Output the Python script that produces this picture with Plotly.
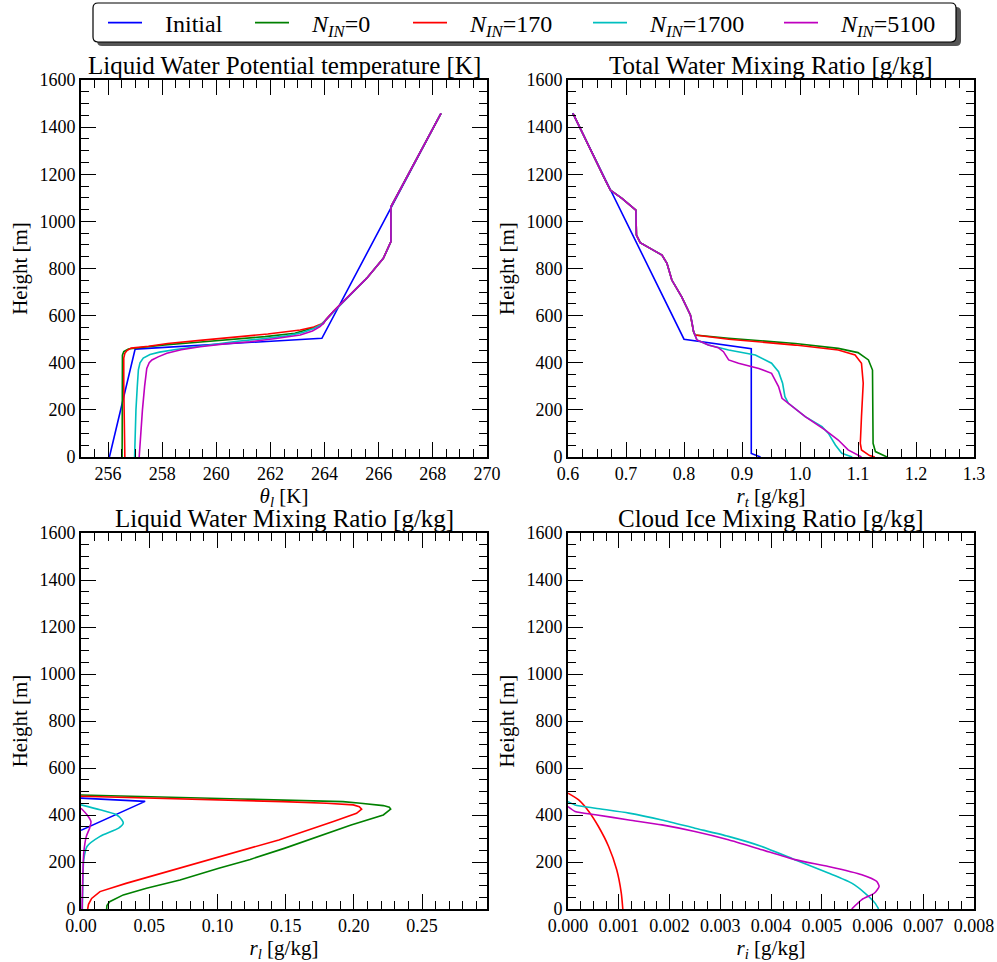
import plotly.graph_objects as go
from plotly.subplots import make_subplots

# ---------------- data ----------------
names = ["Initial", "<i>N</i><sub><i>IN</i></sub>=0", "<i>N</i><sub><i>IN</i></sub>=170",
         "<i>N</i><sub><i>IN</i></sub>=1700", "<i>N</i><sub><i>IN</i></sub>=5100"]
colors = ["#0000FF", "#008000", "#FF0000", "#00BFBF", "#BF00BF"]

# Panel 1: liquid water potential temperature [K]
th_init_h = [0, 458, 504, 1458]
th_init_v = [256.05, 257.0, 263.9, 268.3]
th_top_h = [580, 617, 687, 758, 843, 880, 914, 1062, 1458]
th_top_v = [264.03, 264.32, 264.94, 265.55, 266.17, 266.32, 266.45, 266.45, 268.3]
th_n0_h = [0, 200, 400, 432, 447, 458, 466, 476, 486, 498, 511, 525, 541, 554, 566]
th_n0_v = [256.52, 256.52, 256.52, 256.53, 256.58, 256.75, 257.3, 258.1, 259.2, 260.5, 261.8, 262.9, 263.4, 263.75, 263.95]
th_n170_h = [0, 100, 300, 420, 440, 452, 462, 470, 482, 495, 508, 522, 539, 552, 566]
th_n170_v = [256.62, 256.6, 256.58, 256.58, 256.62, 256.7, 256.85, 257.5, 258.2, 259.4, 260.6, 261.9, 263.1, 263.6, 263.9]
th_n1700_h = [0, 100, 200, 300, 370, 400, 420, 435, 445, 456, 467, 478, 490, 502, 514, 528, 545, 562]
th_n1700_v = [256.98, 257.0, 257.03, 257.08, 257.12, 257.18, 257.3, 257.55, 257.9, 258.5, 259.2, 259.9, 260.7, 261.7, 262.6, 263.2, 263.6, 263.88]
th_n5100_h = [0, 100, 200, 300, 376, 400, 412, 425, 440, 455, 468, 480, 489, 503, 518, 535, 553, 570]
th_n5100_v = [257.15, 257.2, 257.27, 257.35, 257.43, 257.52, 257.62, 257.85, 258.17, 258.7, 259.4, 260.3, 261.25, 262.2, 263.1, 263.55, 263.83, 263.98]

# Panel 2: total water mixing ratio [g/kg]
rt_init_h = [0, 15, 460, 500, 1460]
rt_init_v = [0.932, 0.916, 0.916, 0.800, 0.608]
rt_top_h = [532, 574, 603, 680, 751, 822, 857, 881, 910, 942, 1048, 1098, 1133, 1175, 1458]
rt_top_v = [0.8165, 0.8136, 0.811, 0.796, 0.779, 0.7706, 0.762, 0.7447, 0.7245, 0.718, 0.717, 0.693, 0.673, 0.6643, 0.6086]
rt_n0_h = [0, 23, 58, 150, 300, 369, 412, 443, 461, 482, 504, 518]
rt_n0_v = [1.15, 1.13, 1.126, 1.126, 1.126, 1.125, 1.118, 1.1, 1.066, 0.992, 0.877, 0.819]
rt_n170_h = [0, 6, 30, 58, 171, 313, 398, 433, 454, 475, 500, 518]
rt_n170_v = [1.129, 1.12, 1.106, 1.104, 1.106, 1.109, 1.106, 1.095, 1.066, 0.992, 0.877, 0.819]
rt_n1700_h = [0, 16, 51, 100, 129, 171, 228, 256, 313, 362, 398, 433, 454, 475, 497, 518]
rt_n1700_v = [1.09, 1.072, 1.061, 1.049, 1.038, 1.009, 0.98, 0.974, 0.97, 0.963, 0.951, 0.923, 0.877, 0.842, 0.8222, 0.819]
rt_n5100_h = [0, 30, 72, 115, 171, 221, 249, 299, 355, 376, 398, 412, 447, 464, 475, 497, 518]
rt_n5100_v = [1.106, 1.083, 1.066, 1.043, 1.009, 0.983, 0.969, 0.963, 0.951, 0.929, 0.894, 0.877, 0.868, 0.859, 0.842, 0.8222, 0.819]

# Panel 3: liquid water mixing ratio [g/kg]
rl_init_h = [335, 458, 472]
rl_init_v = [0, 0.047, 0]
rl_n0_h = [0, 15, 31, 60, 88, 123, 173, 211, 258, 357, 400, 425, 433, 440, 450, 457, 468, 478, 485]
rl_n0_v = [0.0188, 0.019, 0.021, 0.031, 0.048, 0.0726, 0.101, 0.124, 0.149, 0.198, 0.2216, 0.227, 0.226, 0.2216, 0.205, 0.192, 0.117, 0.0506, 0.0]
rl_n170_h = [0, 20, 45, 74, 109, 166, 216, 294, 372, 407, 425, 435, 443, 450, 457, 464, 471, 476, 480]
rl_n170_v = [0.0049, 0.0055, 0.0078, 0.0139, 0.033, 0.068, 0.098, 0.145, 0.185, 0.202, 0.2057, 0.204, 0.1996, 0.18, 0.148, 0.099, 0.0506, 0.015, 0.0]
rl_n1700_h = [0, 150, 210, 266, 309, 344, 365, 379, 401, 422, 443]
rl_n1700_v = [0.001, 0.0015, 0.002, 0.0044, 0.014, 0.0276, 0.031, 0.03, 0.026, 0.014, 0.0]
rl_n5100_h = [0, 110, 238, 309, 344, 372, 401, 429]
rl_n5100_v = [0.0008, 0.0012, 0.002, 0.0039, 0.0063, 0.0073, 0.0044, 0.0]

# Panel 4: cloud ice mixing ratio [g/kg] (Initial and N_IN=0 are zero: they lie on the axis)
ri_n170_h = [0, 68, 167, 266, 351, 415, 464, 493]
ri_n170_v = [0.00108, 0.00105, 0.00096, 0.0008, 0.0006, 0.00041, 0.00021, 0.0]
ri_n1700_h = [0, 25, 68, 110, 153, 210, 266, 309, 344, 379, 408, 429, 443, 457]
ri_n1700_v = [0.00612, 0.00605, 0.00585, 0.00559, 0.00513, 0.00447, 0.00382, 0.00316, 0.0025, 0.00185, 0.0012, 0.00054, 0.00014, 0.0]
ri_n5100_h = [0, 40, 68, 96, 118, 146, 181, 210, 252, 295, 330, 358, 379, 401, 415, 436]
ri_n5100_v = [0.00559, 0.00579, 0.00604, 0.00613, 0.00608, 0.00579, 0.00513, 0.00447, 0.00382, 0.00316, 0.0025, 0.00185, 0.0012, 0.00054, 0.00014, 0.0]

titles = ["Liquid Water Potential temperature [K]", "Total Water Mixing Ratio [g/kg]",
          "Liquid Water Mixing Ratio [g/kg]", "Cloud Ice Mixing Ratio [g/kg]"]
xtitles = ["<i>θ</i><sub><i>l</i></sub> [K]", "<i>r</i><sub><i>t</i></sub> [g/kg]",
           "<i>r</i><sub><i>l</i></sub> [g/kg]", "<i>r</i><sub><i>i</i></sub> [g/kg]"]

panels = [
    [(th_init_v, th_init_h),
     (th_n0_v + th_top_v, th_n0_h + th_top_h),
     (th_n170_v + th_top_v, th_n170_h + th_top_h),
     (th_n1700_v + th_top_v, th_n1700_h + th_top_h),
     (th_n5100_v + th_top_v, th_n5100_h + th_top_h)],
    [(rt_init_v, rt_init_h),
     (rt_n0_v + rt_top_v, rt_n0_h + rt_top_h),
     (rt_n170_v + rt_top_v, rt_n170_h + rt_top_h),
     (rt_n1700_v + rt_top_v, rt_n1700_h + rt_top_h),
     (rt_n5100_v + rt_top_v, rt_n5100_h + rt_top_h)],
    [(rl_init_v, rl_init_h), (rl_n0_v, rl_n0_h), (rl_n170_v, rl_n170_h),
     (rl_n1700_v, rl_n1700_h), (rl_n5100_v, rl_n5100_h)],
    [None, None, (ri_n170_v, ri_n170_h),
     (ri_n1700_v, ri_n1700_h), (ri_n5100_v, ri_n5100_h)],
]

# ---------------- figure ----------------
W, H = 997, 962
FONT = "Liberation Serif"
TICK_FS = 18
TITLE_FS = 25
LAB_FS = 21
LEG_FS = 24

legend_ids = ["legend", "legend2", "legend3", "legend4", "legend5"]
legend_line_px = [108, 255, 413, 593, 784]   # left end of each legend line sample (px)

fig = make_subplots(rows=2, cols=2)
for p, series in enumerate(panels):
    r, c = p // 2 + 1, p % 2 + 1
    for k, s in enumerate(series):
        if s is None:
            continue
        xv, yv = s
        smooth = (p == 3) or (p == 2 and k >= 3)
        fig.add_trace(go.Scatter(x=xv, y=yv, mode="lines",
                                 name="&nbsp;&nbsp;&nbsp;" + names[k],
                                 line=dict(color=colors[k], width=1.6,
                                           shape="spline" if smooth else "linear",
                                           smoothing=0.6 if smooth else None),
                                 legend=legend_ids[k],
                                 legendgroup=str(k), showlegend=(p == 0)),
                      row=r, col=c)

def px_x(v):
    return v / W

def px_y(v):
    return 1 - v / H

xdom = [[px_x(81), px_x(487)], [px_x(568), px_x(974)]]
ydom = [[px_y(457), px_y(80)], [px_y(909), px_y(533)]]

xranges = [[255, 270], [0.6, 1.3], [0, 0.2976], [0, 0.008]]
xdt = [2, 0.1, 0.05, 0.001]
xminor = [0.5, 0.025, 0.01, 0.00025]
xfmt = ["d", ".1f", ".2f", ".3f"]
xtick0 = [256, 0.6, 0, 0]

axis_common = dict(showline=True, linecolor="black", linewidth=2, mirror="allticks",
                   ticks="inside", ticklen=15, tickwidth=1.3, tickcolor="black",
                   showgrid=False, zeroline=False, automargin=False,
                   tickfont=dict(family=FONT, size=TICK_FS, color="black"))

for p in range(4):
    row, col = p // 2, p % 2
    sx = "" if p == 0 else str(p + 1)
    fig.layout["xaxis" + sx].update(
        domain=xdom[col], range=xranges[p], dtick=xdt[p], tick0=xtick0[p],
        tickformat=xfmt[p], ticklabelstandoff=-1,
        minor=dict(ticks="inside", ticklen=8, tickwidth=1.1, tickcolor="black",
                   dtick=xminor[p], tick0=xtick0[p], showgrid=False),
        title=dict(text=xtitles[p], font=dict(family=FONT, size=LAB_FS, color="black"), standoff=0),
        **axis_common)
    fig.layout["yaxis" + sx].update(
        domain=ydom[row], range=[0, 1600], dtick=200, tick0=0,
        minor=dict(ticks="inside", ticklen=8, tickwidth=1.1, tickcolor="black",
                   dtick=50, showgrid=False),
        title=dict(text="Height [m]", font=dict(family=FONT, size=LAB_FS, color="black"), standoff=6),
        **axis_common)
    fig.add_annotation(text=titles[p], xref="paper", yref="paper",
                       x=(xdom[col][0] + xdom[col][1]) / 2, y=ydom[row][1],
                       xanchor="center", yanchor="bottom", yshift=-1, showarrow=False,
                       font=dict(family=FONT, size=TITLE_FS, color="black"))

# legend frame (rounded box with shadow)
def rounded(x0, y0, x1, y1, rad):
    X = lambda v: px_x(v)
    Y = lambda v: px_y(v)
    return (f"M {X(x0+rad)},{Y(y0)} L {X(x1-rad)},{Y(y0)} Q {X(x1)},{Y(y0)} {X(x1)},{Y(y0+rad)} "
            f"L {X(x1)},{Y(y1-rad)} Q {X(x1)},{Y(y1)} {X(x1-rad)},{Y(y1)} "
            f"L {X(x0+rad)},{Y(y1)} Q {X(x0)},{Y(y1)} {X(x0)},{Y(y1-rad)} "
            f"L {X(x0)},{Y(y0+rad)} Q {X(x0)},{Y(y0)} {X(x0+rad)},{Y(y0)} Z")

fig.add_shape(type="path", xref="paper", yref="paper", path=rounded(97, 7, 961, 46, 5),
              fillcolor="#555555", line=dict(width=0), layer="above")
fig.add_shape(type="path", xref="paper", yref="paper", path=rounded(93, 3, 956, 42, 5),
              fillcolor="white", line=dict(color="black", width=1.2), layer="above")

layout_legends = {}
for k, lid in enumerate(legend_ids):
    layout_legends[lid] = dict(
        orientation="h", x=px_x(legend_line_px[k] - 5), y=px_y(23),
        xanchor="left", yanchor="middle", bgcolor="rgba(0,0,0,0)", borderwidth=0,
        itemwidth=34, font=dict(family=FONT, size=LEG_FS, color="black"))

fig.update_layout(
    width=W, height=H, margin=dict(l=0, r=0, t=0, b=0),
    paper_bgcolor="white", plot_bgcolor="white",
    font=dict(family=FONT, size=TICK_FS, color="black"),
    **layout_legends,
)

fig.write_html("out.html")
